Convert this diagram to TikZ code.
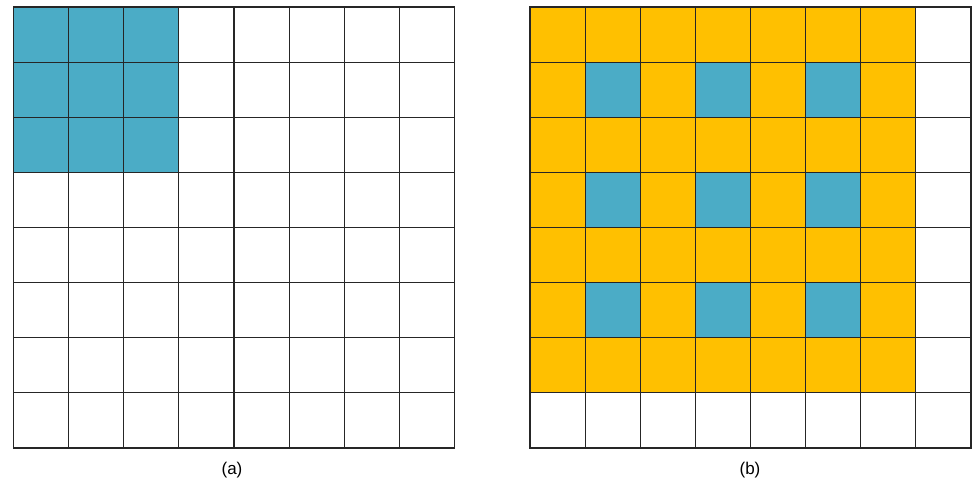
\documentclass[tikz,border=0pt]{standalone}
\usepackage{fontspec}
\setmainfont{Liberation Sans}
\definecolor{cellblue}{HTML}{4BACC6}
\definecolor{cellyellow}{HTML}{FFC000}
\begin{document}
\begin{tikzpicture}[x=1pt,y=-1pt,
  gridline/.style={draw=black!85,line width=1.1pt,line cap=rect},
  lbl/.style={font=\fontsize{17}{20}\selectfont,inner sep=0pt}]
\useasboundingbox (0,0) rectangle (973,486);
\def\cs{55.125}
% left grid
\begin{scope}[shift={(13.5,7)}]
  \fill[cellblue] (0,0) rectangle (3*\cs,3*\cs);
  \foreach \k in {0,...,8}{
    \draw[gridline] (\k*\cs,0) -- (\k*\cs,8*\cs);
    \draw[gridline] (0,\k*\cs) -- (8*\cs,\k*\cs);
  }
\end{scope}
% right grid
\begin{scope}[shift={(530,7)}]
  \fill[cellyellow] (0,0) rectangle (7*\cs,7*\cs);
  \foreach \i in {1,3,5}{
    \foreach \j in {1,3,5}{
      \fill[cellblue] (\i*\cs,\j*\cs) rectangle ({(\i+1)*\cs},{(\j+1)*\cs});
    }
  }
  \foreach \k in {0,...,8}{
    \draw[gridline] (\k*\cs,0) -- (\k*\cs,8*\cs);
    \draw[gridline] (0,\k*\cs) -- (8*\cs,\k*\cs);
  }
\end{scope}
\node[lbl] (la) at (232,470.5) {(a)};
\node[lbl] (lb) at (750,470.5) {(b)};
\end{tikzpicture}
\end{document}
